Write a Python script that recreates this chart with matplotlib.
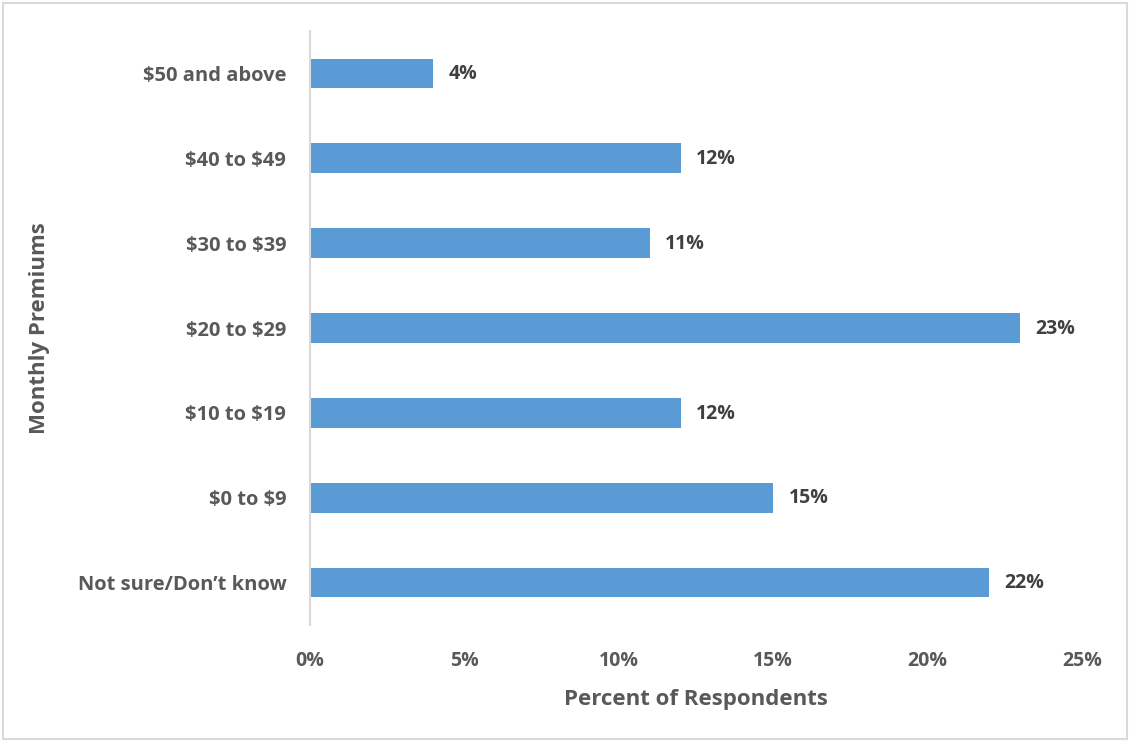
import matplotlib.pyplot as plt
from matplotlib.patches import Rectangle
from matplotlib.ticker import FuncFormatter

categories = ['Not sure/Don\u2019t know', '$0 to $9', '$10 to $19', '$20 to $29',
              '$30 to $39', '$40 to $49', '$50 and above']
percents = [22, 15, 12, 23, 11, 12, 4]

bar_color = '#5B9BD5'
text_color = '#595959'

plt.rcParams['text.parse_math'] = False
plt.rcParams['font.family'] = ['Open Sans', 'DejaVu Sans']
plt.rcParams['font.weight'] = 'bold'

fig = plt.figure(figsize=(11.3, 7.42), dpi=100)
ax = fig.add_axes([0.2743, 0.1577, 0.9575 - 0.2743, 0.9582 - 0.1577])

pos = range(len(categories))
bars = ax.barh(pos, percents, height=0.35, color=bar_color)

for b, v in zip(bars, percents):
    ax.annotate('{}%'.format(v), (b.get_width(), b.get_y() + b.get_height() / 2),
                xytext=(11, -0.5), textcoords='offset points', va='center', ha='left',
                fontsize=14, fontweight='bold', color='#404040')

ax.set_xlim(0, 25)
ax.set_ylim(-0.5, 6.5)
ax.set_xticks([0, 5, 10, 15, 20, 25])
ax.xaxis.set_major_formatter(FuncFormatter(lambda x, p: '{:.0f}%'.format(x)))
ax.set_yticks(list(pos))
ax.set_yticklabels(categories)
ax.tick_params(axis='both', length=0, labelsize=14.5, labelcolor=text_color)
ax.tick_params(axis='y', pad=17)
ax.tick_params(axis='x', labelsize=14, pad=19)
for t in ax.get_xticklabels() + ax.get_yticklabels():
    t.set_fontweight('bold')

for s in ['top', 'right', 'bottom']:
    ax.spines[s].set_visible(False)
ax.spines['left'].set_color('#D9D9D9')
ax.spines['left'].set_linewidth(1.5)

ax.set_xlabel('Percent of Respondents', fontsize=16, fontweight='bold',
              color=text_color, labelpad=13)
ax.set_ylabel('Monthly Premiums', fontsize=16, fontweight='bold',
              color=text_color, labelpad=20)

# light frame round the whole chart
fig.patches.append(Rectangle((0.003, 0.004), 0.994, 0.992, transform=fig.transFigure,
                             fill=False, edgecolor='#D9D9D9', linewidth=1.5))

fig.savefig('out.png', dpi=100)
